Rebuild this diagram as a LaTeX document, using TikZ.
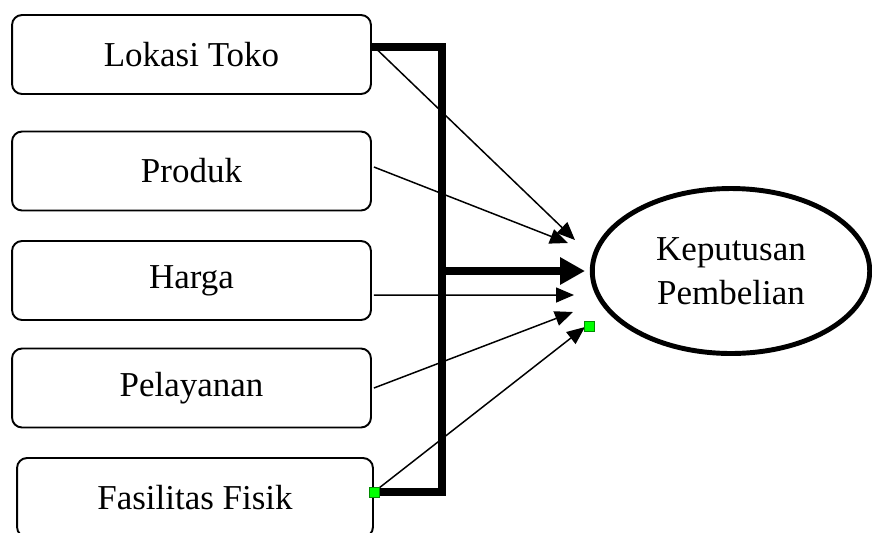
\documentclass[tikz,border=0pt]{standalone}
\usepackage{fontspec}
\setmainfont{Liberation Serif}
\usepackage{tikz}
\usetikzlibrary{positioning,arrows.meta,shapes.geometric,calc}
\definecolor{handle}{HTML}{00FF00}
\tikzset{
  varbox/.style={draw, line width=1.1pt, rounded corners=0.2cm, fill=white,
    minimum width=7.18cm, minimum height=1.58cm, inner sep=0pt,
    font=\fontsize{19.9}{25}\selectfont},
  targetell/.style={ellipse, draw, line width=2.8pt, minimum width=5.55cm,
    minimum height=3.3cm, inner sep=0pt, align=center,
    font=\fontsize{19.9}{25}\selectfont},
  thinarrow/.style={-{Triangle[length=0.36cm, width=0.3cm]}, line width=0.85pt},
  bracketline/.style={line width=4.5pt, line join=miter},
  bigarrow/.style={-{Triangle[length=0.5cm, width=0.52cm]}, line width=4.5pt},
  handlebox/.style={draw=handle!55!black, line width=0.3pt, fill=handle,
    minimum size=0.2cm, inner sep=0pt}
}
\begin{document}
\begin{tikzpicture}[x=0.02cm, y=-0.02cm]
  \clip (0,0) rectangle (872,532);

  % independent variables
  \node[varbox] (lokasi) at (191.5,54.5) {Lokasi Toko};
  \node[varbox] (produk) at (191.5,171) {Produk};
  \node[varbox] (harga) at (191.5,280.5) {Harga};
  \node[varbox] (pelayanan) at (191.5,388) {Pelayanan};
  \node[varbox, minimum width=7.12cm] (fasilitas) at (195,497.5) {Fasilitas Fisik};

  % dependent variable
  \node[targetell] (keputusan) at (731,271) {Keputusan\\Pembelian};

  % simultaneous bracket
  \coordinate (spineTop) at (442,47);
  \coordinate (spineBot) at (442,492);
  \coordinate (simul) at (585,271);
  \draw[bracketline] (lokasi.east |- spineTop) -- (spineTop) -- (spineBot)
    -- (fasilitas.east |- spineBot);
  \draw[bigarrow] (spineTop |- simul) -- (simul);

  % partial effects
  \coordinate (in1) at (575,240);
  \coordinate (in2) at (568,243);
  \coordinate (in3) at (574,295);
  \coordinate (in4) at (573,312);
  \coordinate (in5) at (585,327);
  \draw[thinarrow] ($(lokasi.east)+(3,-7)$) -- (in1);
  \draw[thinarrow] ($(produk.east)+(2,-4)$) -- (in2);
  \draw[thinarrow] ($(harga.east)+(2,14.5)$) -- (in3);
  \draw[thinarrow] ($(pelayanan.east)+(2,0)$) -- (in4);
  \draw[thinarrow] ($(fasilitas.east)+(0,-5.5)$) -- (in5);

  % selection handles
  \node[handlebox] (h1) at ($(fasilitas.east)+(0,-5.5)$) {};
  \node[handlebox] (h2) at (589,326) {};
\end{tikzpicture}
\end{document}
